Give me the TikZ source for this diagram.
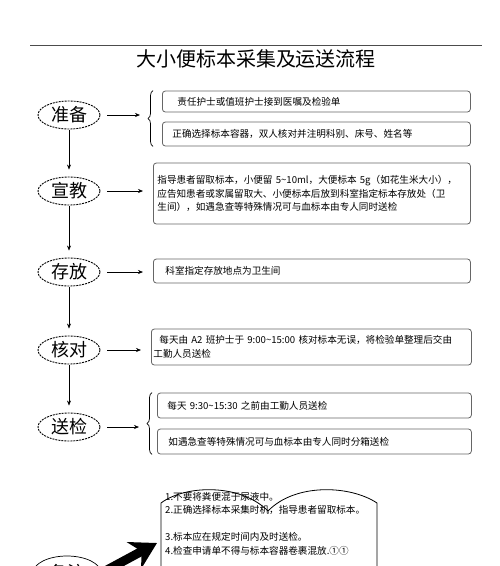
\documentclass[tikz,border=0pt]{standalone}
\usepackage{fontspec}
\setmainfont{Noto Sans CJK SC}
\usetikzlibrary{arrows.meta,positioning,shapes.geometric,decorations.pathreplacing,calc}
\tikzset{
  stage/.style={ellipse,draw,line width=0.9pt,dash pattern=on 2pt off 1pt,minimum width=62pt,minimum height=28pt,inner sep=1pt,font=\fontsize{18}{18}\selectfont},
  tbox/.style={draw=black!60,line width=0.8pt,rounded corners=3pt,anchor=west,align=left,inner ysep=2pt,font=\fontsize{9.6}{13.5}\selectfont},
  arr/.style={-{Stealth[length=5pt,width=4pt]},line width=0.6pt},
  brc/.style={decorate,decoration={brace,amplitude=5pt},line width=0.7pt},
  bigarr/.style={-{Stealth[length=26pt,width=30pt]},line width=9pt},
}
\begin{document}
\begin{tikzpicture}[x=1pt,y=-1pt]
\useasboundingbox (0,0) rectangle (500,566);
\fill[white] (0,0) rectangle (500,566);
\clip (0,0) rectangle (500,566);
\draw[black!70,line width=0.6pt] (30,45) -- (482,45);
\node[font=\fontsize{20}{20}\selectfont] (title) at (256,59) {大小便标本采集及运送流程};
\foreach \n/\t/\y in {zb/准备/115,xj/宣教/191,cf/存放/272,hd/核对/350,sj/送检/427}
{\node[stage] (\n) at (69,\y) {\t};}
\foreach \a/\b in {zb/xj,xj/cf,cf/hd,hd/sj}
{\draw[arr,shorten <=1pt,shorten >=7pt] (\a) -- (\b);}
\node[tbox,inner xsep=15pt,text width=278pt,minimum height=21pt] (zb1) at (162,101.5) {责任护士或值班护士接到医嘱及检验单};
\node[tbox,inner xsep=10pt,text width=288pt,minimum height=24pt] (zb2) at (162,134) {正确选择标本容器，双人核对并注明科别、床号、姓名等};
\node[tbox,inner xsep=4pt,text width=309pt,minimum height=61pt] (xjb) at (153,193.5) {指导患者留取标本，小便留~5\textasciitilde10ml，大便标本~5g（如花生米大小），\\应告知患者或家属留取大、小便标本后放到科室指定标本存放处（卫\\生间），如遇急查等特殊情况可与血标本由专人同时送检};
\node[tbox,inner xsep=12pt,text width=293pt,minimum height=24pt] (cfb) at (153,271) {科室指定存放地点为卫生间};
\node[tbox,inner xsep=2pt,text width=316pt,minimum height=36pt] (hdb) at (151,347) {\hspace*{6pt}每天由~A2~班护士于~9:00\textasciitilde15:00~核对标本无误，将检验单整理后交由\\工勤人员送检};
\node[tbox,inner xsep=10pt,text width=294pt,minimum height=25pt] (sj1) at (157,405.5) {每天~9:30\textasciitilde15:30~之前由工勤人员送检};
\node[tbox,inner xsep=11pt,text width=292pt,minimum height=25pt] (sj2) at (157,441.5) {如遇急查等特殊情况可与血标本由专人同时分箱送检};
\draw[brc] ([xshift=-9pt]zb2.south west) -- ([xshift=-9pt]zb1.north west);
\draw[brc] ([xshift=-5pt]sj2.south west) -- ([xshift=-5pt]sj1.north west);
\coordinate (zbt) at ($(zb1.north west)!0.5!(zb2.south west)+(-22pt,0)$);
\coordinate (sjt) at ($(sj1.north west)!0.5!(sj2.south west)+(-18pt,0)$);
\draw[arr,shorten <=7pt] (zb.east) -- (zb.east -| zbt);
\draw[arr,shorten <=7pt] (sj.east) -- (sj.east -| sjt);
\draw[arr,shorten <=7pt,shorten >=10pt] (xj.east) -- (xj.east -| xjb.west);
\draw[arr,shorten <=7pt,shorten >=10pt] (cf.east) -- (cf.east -| cfb.west);
\draw[arr,shorten <=7pt,shorten >=10pt] (hd.east) -- (hd.east -| hdb.west);
\draw[line width=0.8pt] (161,580) -- (161,503) .. controls (185,485) and (240,483) .. (268,511) .. controls (295,483) and (350,485) .. (377,503) -- (377,580);
\node[anchor=north west,inner sep=0pt,align=left,font=\fontsize{9.6}{13.5}\selectfont] (bzt) at (165,492) {1.不要将粪便混于尿液中。\\2.正确选择标本采集时机，指导患者留取标本。\\[13.5pt]3.标本应在规定时间内及时送检。\\4.检查申请单不得与标本容器卷裹混放.①①};
\node[stage,solid,line width=0.7pt,minimum width=68pt,minimum height=34pt] (bz) at (67,573) {备注};
\coordinate (tip) at (157,543);
\draw[bigarr] (bz.east) -- (tip);
\end{tikzpicture}
\end{document}
